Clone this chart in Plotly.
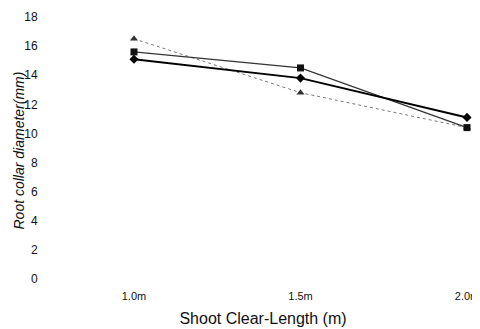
import plotly.graph_objects as go

x_vals = [1.0, 1.5, 2.0]
x_labels = ["1.0m", "1.5m", "2.0m"]
diamond_vals = [15.1, 13.8, 11.1]
square_vals = [15.6, 14.5, 10.4]
triangle_vals = [16.5, 12.8, 10.4]
y_ticks = [0, 2, 4, 6, 8, 10, 12, 14, 16, 18]

fig = go.Figure()
fig.add_trace(go.Scatter(x=x_vals, y=triangle_vals, mode="lines+markers",
                         line=dict(color="#7a7a7a", width=1, dash="dot"),
                         marker=dict(symbol="triangle-up", size=7, color="#333333")))
fig.add_trace(go.Scatter(x=x_vals, y=square_vals, mode="lines+markers",
                         line=dict(color="#333333", width=1.2),
                         marker=dict(symbol="square", size=7, color="#111111")))
fig.add_trace(go.Scatter(x=x_vals, y=diamond_vals, mode="lines+markers",
                         line=dict(color="#000000", width=2),
                         marker=dict(symbol="diamond", size=7, color="#000000")))

fig.update_layout(
    width=472, height=321,
    margin=dict(l=44, r=6, t=2, b=46),
    paper_bgcolor="white", plot_bgcolor="white",
    showlegend=False,
    font=dict(family="Liberation Sans, Arial, sans-serif", color="#111111"),
    xaxis=dict(range=[0.7538, 2.021], tickvals=x_vals, ticktext=x_labels,
               showgrid=False, zeroline=False, showline=False,
               ticks="outside", ticklen=3, tickcolor="white",
               tickfont=dict(size=11),
               title=dict(text="Shoot Clear-Length (m)", font=dict(size=16), standoff=11)),
    yaxis=dict(range=[-0.275, 18.48], tickvals=y_ticks,
               showgrid=False, zeroline=False, showline=False,
               ticks="outside", ticklen=11, tickcolor="white",
               tickfont=dict(size=12)),
    annotations=[dict(text="<i>Root collar diameter(mm)</i>", textangle=-90,
                      xref="paper", yref="paper", x=0, y=0.5,
                      xanchor="center", yanchor="middle",
                      xshift=-34, yshift=-4, showarrow=False,
                      font=dict(size=14, family="Liberation Sans, Arial, sans-serif", color="#111111"))],
)

fig.write_html("out.html")
